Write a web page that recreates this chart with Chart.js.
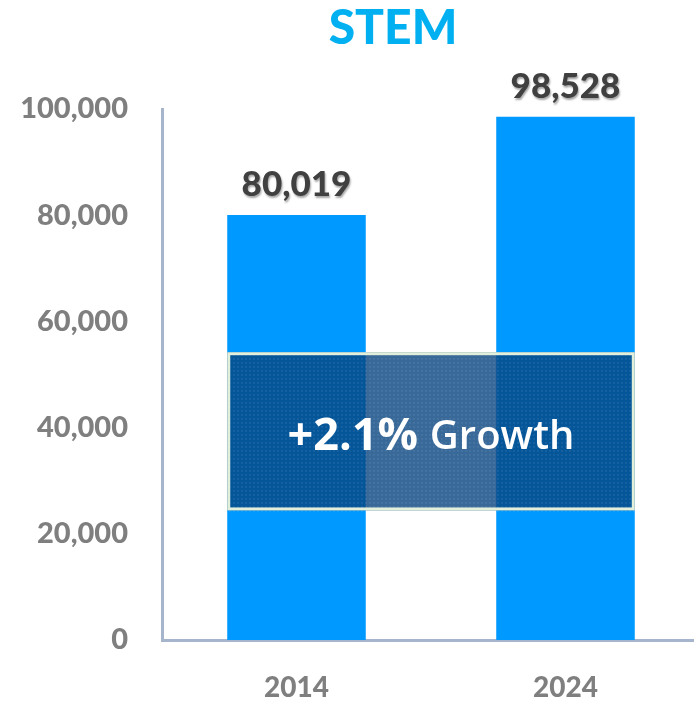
<!DOCTYPE html>
<html>
<head>
<meta charset="utf-8">
<script src="https://cdn.jsdelivr.net/npm/chart.js@4.4.1/dist/chart.umd.min.js"></script>
<style>
  html, body { margin: 0; padding: 0; background: #fff; overflow: hidden; }
  #wrap { width: 694px; height: 705px; overflow: hidden; }
</style>
</head>
<body>
<div id="wrap"><canvas id="myChart" width="700" height="705"></canvas></div>
<script>
// data
let years = ['2014', '2024'];
let stemCounts = [80019, 98528];
let yTicks = [0, 20000, 40000, 60000, 80000, 100000];
let growthText = ['+2.1%', 'Growth'];
// growth box spans these y values (data units)
let boxRange = [24400, 54200];

let fmt = v => v.toLocaleString('en-US');

// title, value labels and the growth box
let extras = {
    id: 'extras',
    afterDatasetsDraw(chart) {
        let c = chart.ctx;
        let meta = chart.getDatasetMeta(0);
        let y = chart.scales.y;

        // value labels above bars
        c.save();
        c.font = '900 35px Lato';
        c.fillStyle = '#404040';
        c.textAlign = 'center';
        c.textBaseline = 'bottom';
        c.shadowColor = 'rgba(0,0,0,0.35)';
        c.shadowOffsetX = 1;
        c.shadowOffsetY = 2;
        c.shadowBlur = 2;
        meta.data.forEach((bar, i) => {
            c.fillText(fmt(stemCounts[i]), bar.x, bar.y - 13);
        });
        c.restore();

        // growth box
        let b0 = meta.data[0], b1 = meta.data[1];
        let left = b0.x - b0.width / 2;
        let right = b1.x + b1.width / 2;
        let top = y.getPixelForValue(boxRange[1]);
        let bottom = y.getPixelForValue(boxRange[0]);
        c.save();
        c.fillStyle = 'rgba(6, 68, 128, 0.80)';
        c.fillRect(left, top, right - left, bottom - top);
        // dotted texture
        c.fillStyle = 'rgba(255,255,255,0.12)';
        for (let px = left + 2; px < right; px += 4) {
            for (let py = top + 2; py < bottom; py += 4) {
                c.fillRect(px, py, 1.5, 1.5);
            }
        }
        c.strokeStyle = '#e2efda';
        c.lineWidth = 3;
        c.strokeRect(left + 1.5, top + 1.5, right - left - 3, bottom - top - 3);

        let cx = (left + right) / 2, cy = (top + bottom) / 2 + 6;
        c.fillStyle = '#ffffff';
        c.textBaseline = 'middle';
        c.font = 'bold 45px "Open Sans"';
        let w1 = c.measureText(growthText[0] + ' ').width;
        c.font = '600 40px "Open Sans"';
        let w2 = c.measureText(growthText[1]).width;
        let sx = cx - (w1 + w2) / 2;
        c.textAlign = 'left';
        c.font = 'bold 45px "Open Sans"';
        c.fillText(growthText[0], sx, cy);
        c.font = '600 40px "Open Sans"';
        c.fillText(growthText[1], sx + w1, cy);
        c.restore();

        // title
        c.save();
        c.font = '900 48px Lato';
        c.fillStyle = '#00b0f0';
        c.textAlign = 'center';
        c.textBaseline = 'middle';
        c.fillText('STEM', 393, 29);
        c.restore();
    }
};

let ctx = document.getElementById('myChart').getContext('2d');

let chart = new Chart(ctx, {
    type: 'bar',
    data: {
        labels: years,
        datasets: [{
            label: 'STEM',
            data: stemCounts,
            backgroundColor: '#0099ff',
            borderWidth: 0,
            categoryPercentage: 1,
            barPercentage: 0.515
        }]
    },
    options: {
        responsive: false,
        animation: false,
        layout: { padding: { top: 109, right: 0, left: 0, bottom: 0 } },
        plugins: {
            legend: { display: false },
            title: { display: false },
            tooltip: { enabled: false }
        },
        scales: {
            x: {
                grid: { display: false, drawTicks: false },
                border: { color: '#a6b4cc', width: 3 },
                ticks: {
                    color: '#7f7f7f',
                    font: { family: 'Lato', size: 28, weight: '900' },
                    padding: 31
                },
                afterFit: s => { s.height = 65; }
            },
            y: {
                min: 0,
                max: 100000,
                afterBuildTicks: s => { s.ticks = yTicks.map(v => ({ value: v })); },
                grid: { display: false, drawTicks: false },
                border: { color: '#a6b4cc', width: 3 },
                ticks: {
                    color: '#7f7f7f',
                    font: { family: 'Lato', size: 29, weight: '900' },
                    padding: 34,
                    callback: v => fmt(v)
                },
                afterFit: s => { s.width = 162; }
            }
        }
    },
    plugins: [extras]
});
</script>
</body>
</html>
